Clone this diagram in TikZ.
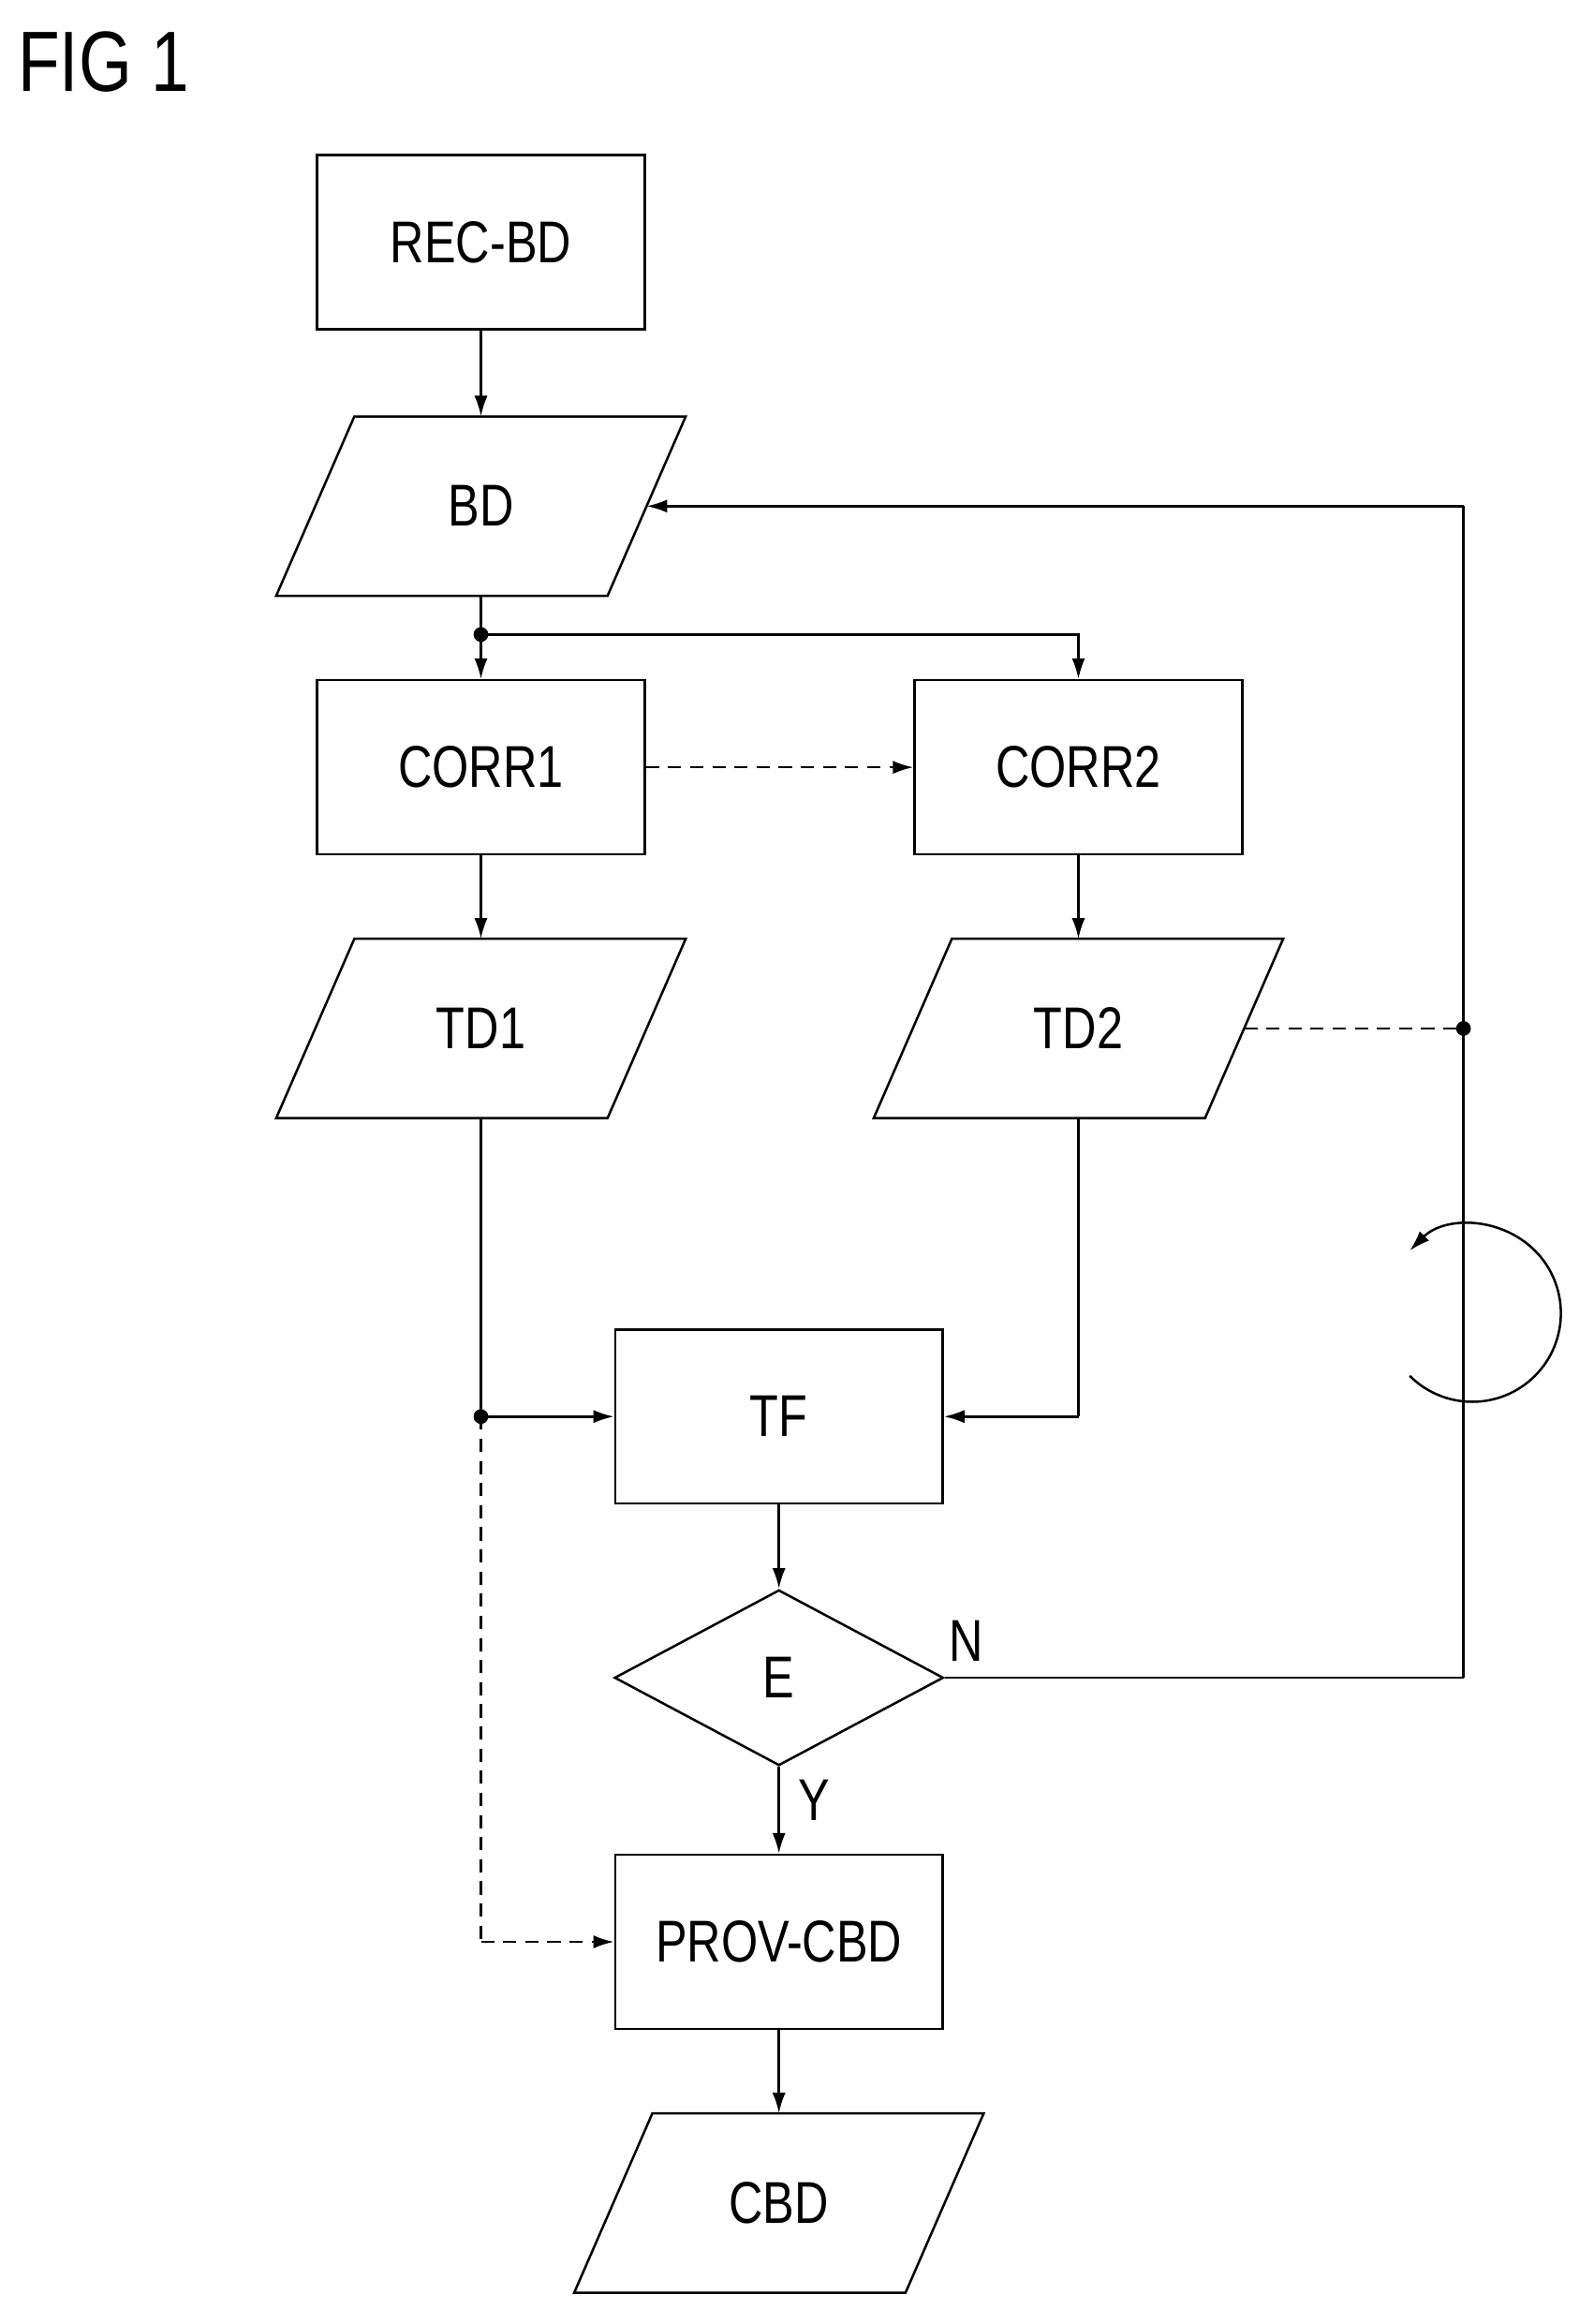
\documentclass[tikz,border=0pt]{standalone}
\usepackage{fontspec}
\setmainfont{Liberation Sans}[FakeStretch=0.8]
\usetikzlibrary{arrows.meta,calc,shapes.geometric}
\begin{document}
\begin{tikzpicture}[x=1pt,y=-1pt,line width=1.6pt,
  every node/.style={font=\fontsize{40}{48}\selectfont},
  box/.style={draw,minimum width=222pt,minimum height=118pt,inner sep=0pt},
  para/.style={minimum width=223pt,minimum height=120pt,inner sep=0pt},
  arr/.style={-{Latex[length=14pt,width=9pt]}},
  dsh/.style={dash pattern=on 9pt off 6pt},
  dot/.style={circle,fill,inner sep=0pt,minimum size=10pt}]
\useasboundingbox (0,0) rectangle (1080,1575);
\newcommand{\parashape}[1]{\draw ($(#1.north west)+(26.5,0)$) -- ($(#1.north east)+(26.5,0)$) -- ($(#1.south east)+(-26.5,0)$) -- ($(#1.south west)+(-26.5,0)$) -- cycle;}
\node[anchor=west,font=\fontsize{58}{64}\selectfont] (fig) at (8,42) {FIG 1};
\node[box] (rec) at (326,164) {REC-BD};
\node[para] (bd) at (326,343) {BD}; \parashape{bd}
\node[box] (c1) at (326,520) {CORR1};
\node[box] (c2) at (731,520) {CORR2};
\node[para] (td1) at (326,697) {TD1}; \parashape{td1}
\node[para] (td2) at (731,697) {TD2}; \parashape{td2}
\node[box] (tf) at (528,960) {TF};
\node[draw,diamond,minimum width=223pt,minimum height=119pt,inner sep=0pt,aspect=1.87] (e) at (528,1137) {E};
\node[box] (prov) at (528,1316) {PROV-CBD};
\node[para] (cbd) at (528,1493) {CBD}; \parashape{cbd}
\node (n) at (655,1112) {N};
\node (y) at (552,1220) {Y};
\coordinate (j1) at (326,430);
\coordinate (j2) at (992,697);
\coordinate (j3) at (326,960);
\coordinate (rt) at (992,343);
\coordinate (rb) at (992,1137);
\coordinate (pl) at (326,1316);
\coordinate (tr) at (731,960);
\draw[arr] (rec) -- (bd.north);
\draw (bd.south) -- (j1);
\draw[arr] (j1) -- (c1.north);
\draw[arr] (j1) -| (c2.north);
\node[dot] at (j1) {};
\draw[arr,dsh] (c1.east) -- (c2.west);
\draw[arr] (c1) -- (td1.north);
\draw[arr] (c2) -- (td2.north);
\draw[dsh] (td2.east) -- (j2);
\node[dot] at (j2) {};
\draw (rb) -- (rt);
\draw[arr] (rt) -- (bd.east);
\draw (e.east) -- (rb);
\draw (td1.south) -- (j3);
\draw[arr] (j3) -- (tf.west);
\node[dot] at (j3) {};
\draw (td2.south) -- (tr);
\draw[arr] (tr) -- (tf.east);
\draw[arr] (tf) -- (e.north);
\draw[arr] (e.south) -- (prov.north);
\draw[dsh] (j3) -- (pl);
\draw[arr,dsh] (pl) -- (prov.west);
\draw[arr] (prov) -- (cbd.north);
\draw[arr] (998,890) ++(135:60) arc (135:-135:60);
\end{tikzpicture}
\end{document}
